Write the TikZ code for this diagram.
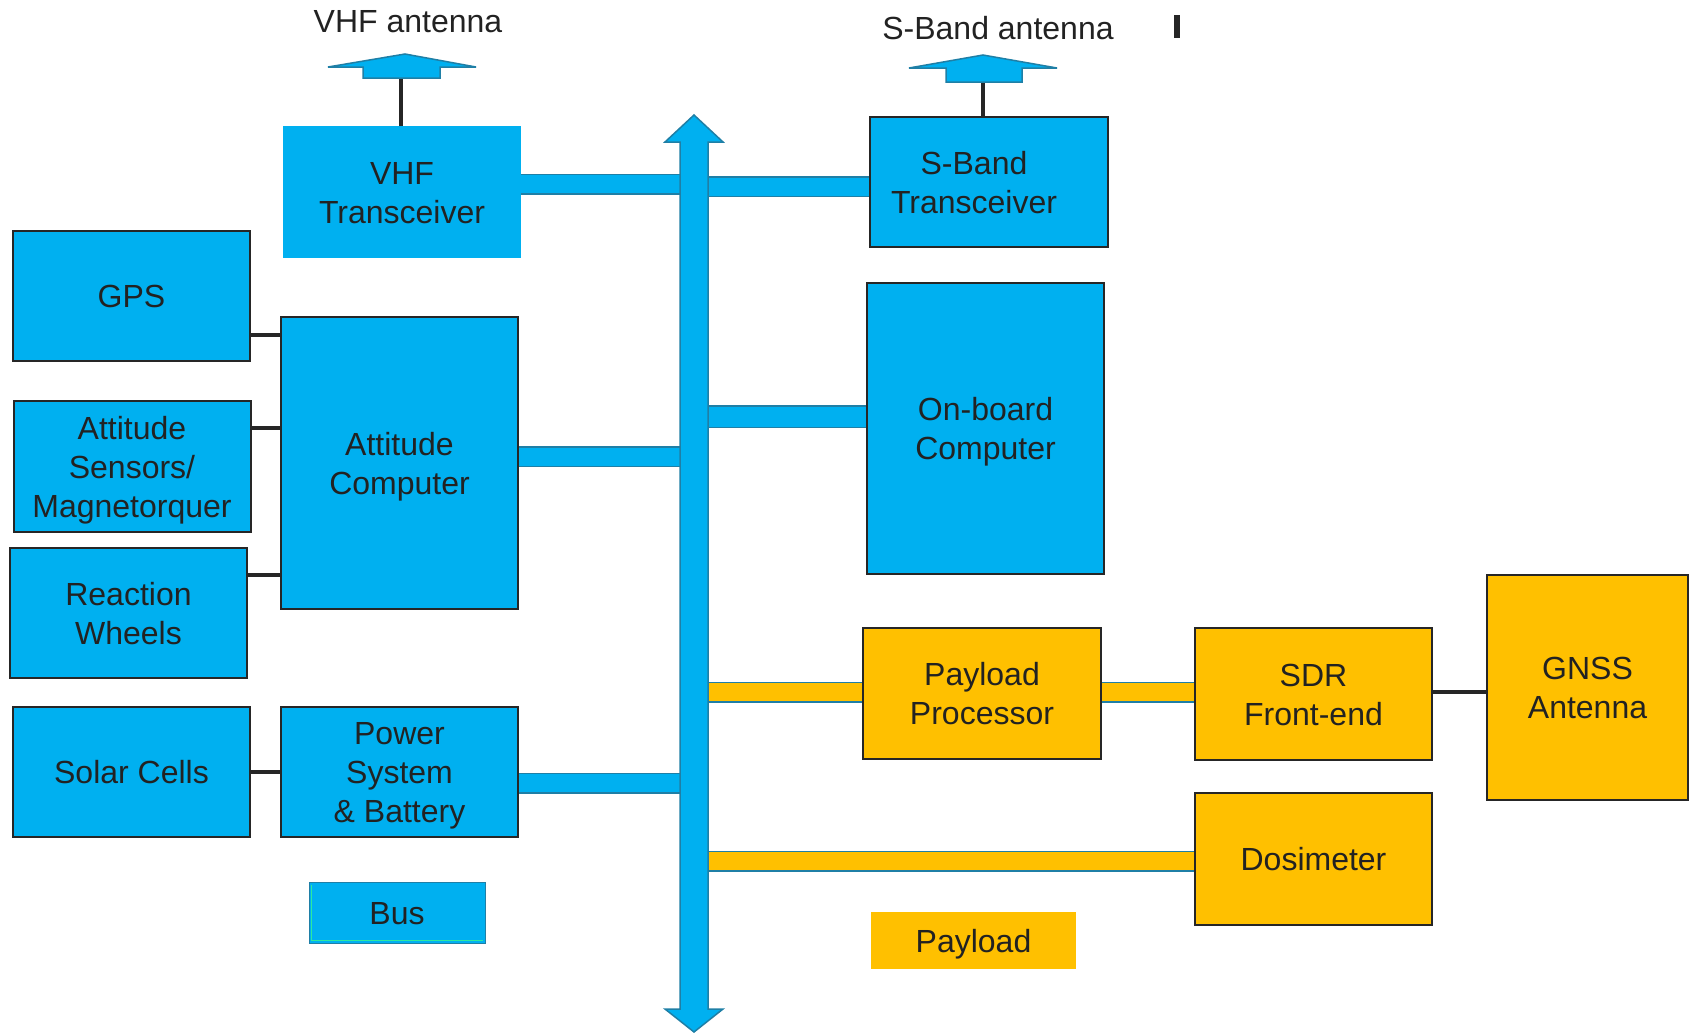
\documentclass[tikz,border=0pt]{standalone}
\usepackage{fontspec}
\setmainfont{Liberation Sans}
\usetikzlibrary{positioning, calc}
\definecolor{busblue}{HTML}{00B0F0}
\definecolor{payyellow}{HTML}{FFC000}
\definecolor{boxline}{HTML}{262626}
\definecolor{baredge}{HTML}{1F7FA6}
\definecolor{legendgreen}{HTML}{2EE8A0}
\definecolor{txt}{HTML}{222222}
\newcommand{\blocktext}[1]{\raisebox{-3.7pt}[\height][\depth]{\begin{tabular}{@{}c@{}}#1\end{tabular}}}

\begin{document}
\begin{tikzpicture}[
  x=1pt, y=-1pt,
  every node/.style={text=txt, font=\fontsize{32}{39}\selectfont},
  unit/.style={rectangle, inner sep=0pt,
               minimum width=237pt, minimum height=130pt},
  busunit/.style={unit, draw=boxline, line width=2pt, fill=busblue},
  payunit/.style={unit, draw=boxline, line width=2pt, fill=payyellow},
  link/.style={draw=boxline, line width=4.5pt},
  busbar/.style={draw=baredge, line width=1.5pt, double=busblue, double distance=18pt},
  paybar/.style={busbar, double=payyellow},
  antshape/.style={draw=baredge, line width=1.5pt, fill=busblue, line join=miter},
  antlabel/.style={font=\fontsize{32}{38}\selectfont},
]
  \useasboundingbox (0,0) rectangle (1692,1034);

  % bus side
  \node[unit, fill=busblue, minimum width=238pt, minimum height=132pt] (vhf) at (402,192) {\blocktext{VHF\\Transceiver}};
  \node[busunit] (gps) at (131.5,296) {\blocktext{GPS}};
  \node[busunit, minimum height=131pt] (atts) at (132,466.5) {\blocktext{Attitude\\Sensors/\\Magnetorquer}};
  \node[busunit] (rw) at (128.5,613) {\blocktext{Reaction\\Wheels}};
  \node[busunit] (solar) at (131.5,772) {\blocktext{Solar Cells}};
  \node[busunit, minimum height=292pt] (attc) at (399.5,463) {\blocktext{Attitude\\Computer}};
  \node[busunit] (power) at (399.5,772) {\blocktext{Power\\System\\\& Battery}};
  \node[busunit, minimum width=238pt] (sband) at (989,182) {\blocktext{S-Band\\Transceiver}\hspace*{30pt}};
  \node[busunit, minimum height=291pt] (obc) at (985.5,428.5) {\blocktext{On-board\\Computer}};

  % payload side
  \node[payunit, minimum width=238pt, minimum height=131pt] (pp) at (982,693.5) {\blocktext{Payload\\Processor}};
  \node[payunit, minimum height=132pt] (sdr) at (1313.5,694) {\blocktext{SDR\\Front-end}};
  \node[payunit, minimum width=201pt, minimum height=225pt] (gnss) at (1587.5,687.5) {\blocktext{GNSS\\Antenna}};
  \node[payunit, minimum height=132pt] (dos) at (1313.5,859) {\blocktext{Dosimeter}};

  % legend
  \node[unit, draw=baredge, line width=1pt, fill=busblue,
        minimum width=176pt, minimum height=61pt] (buslgd) at (397,912.5) {\blocktext{Bus}};
  \draw[legendgreen, line width=1.5pt] ([xshift=3pt,yshift=-3pt]buslgd.north west)
    |- ([xshift=-3pt,yshift=3pt]buslgd.south east);
  \node[unit, fill=payyellow, minimum width=205pt, minimum height=57pt] (paylgd) at (973.5,940.5) {\blocktext{Payload}};

  % antennas
  \coordinate (vhfant) at (401,78);
  \coordinate (sbandant) at (983,82);
  \draw[link] (vhfant) -- (vhfant |- vhf.north);
  \draw[link] (sbandant) -- (sbandant |- sband.north);
  \draw[antshape] (328,67) -- (405,54) -- (476,67) -- (440,67) -- (440,78)
    -- (363,78) -- (363,67) -- cycle;
  \draw[antshape] (909,68) -- (983,55) -- (1057,68) -- (1022,68) -- (1022,82)
    -- (946,82) -- (946,68) -- cycle;
  \node[antlabel] (vhflbl) at (408,22) {VHF antenna};
  \node[antlabel] (sbandlbl) at (998,28) {S-Band antenna};
  \fill[boxline] (1174,15) rectangle (1180,38);

  % short links
  \draw[link] (gps.east |- 0,335) -- (attc.west |- 0,335);
  \draw[link] (atts.east |- 0,428) -- (attc.west |- 0,428);
  \draw[link] (rw.east |- 0,575) -- (attc.west |- 0,575);
  \draw[link] (solar.east |- 0,772) -- (power.west |- 0,772);
  \draw[link] (sdr.east |- 0,692) -- (gnss.west |- 0,692);

  % bars to the bus
  \coordinate (busW) at (680,0);
  \coordinate (busE) at (708,0);
  \draw[busbar] (vhf.east |- 0,184) -- (busW |- 0,184);
  \draw[busbar] (busE |- 0,186.5) -- (sband.west |- 0,186.5);
  \draw[busbar] (attc.east |- 0,456.5) -- (busW |- 0,456.5);
  \draw[busbar, double distance=20pt] (busE |- 0,416.5) -- (obc.west |- 0,416.5);
  \draw[busbar] (power.east |- 0,783) -- (busW |- 0,783);
  \draw[paybar] (busE |- 0,692) -- (pp.west |- 0,692);
  \draw[paybar] (pp.east |- 0,692) -- (sdr.west |- 0,692);
  \draw[paybar] (busE |- 0,861) -- (dos.west |- 0,861);

  % the bus
  \draw[antshape] (680,1009) -- (665,1009) -- (694,1032) -- (723,1009) -- (708,1009)
    -- (708,142) -- (723,142) -- (694,115) -- (665,142) -- (680,142) -- cycle;
\end{tikzpicture}
\end{document}
